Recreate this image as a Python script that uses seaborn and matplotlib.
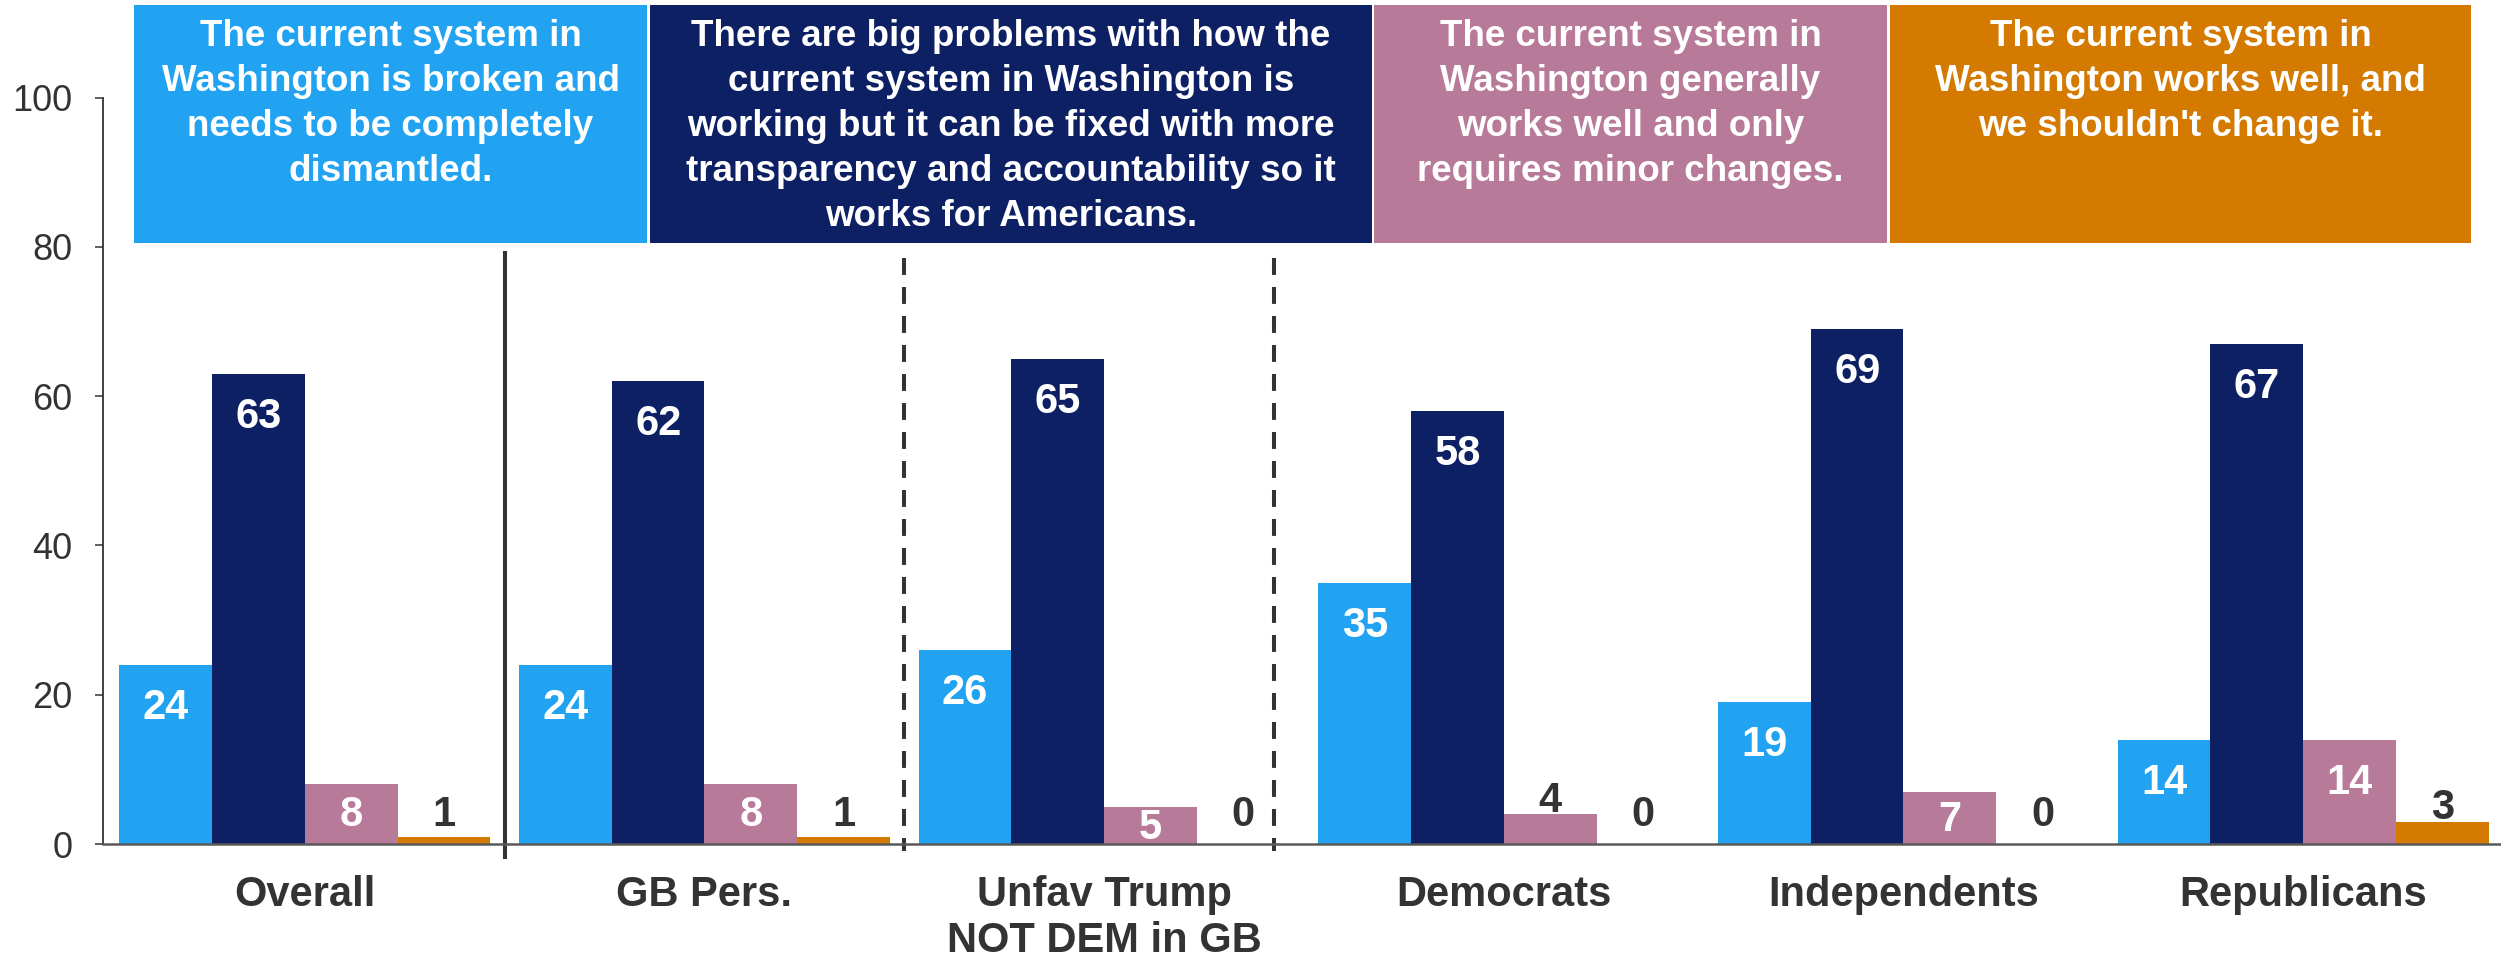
import pandas as pd
import seaborn as sns
import matplotlib.pyplot as plt
from matplotlib.patches import Rectangle

# Data
groups = ["Overall", "GB Pers.", "Unfav Trump\nNOT DEM in GB",
          "Democrats", "Independents", "Republicans"]
answers = [
    "The current system in\nWashington is broken and\nneeds to be completely\ndismantled.",
    "There are big problems with how the\ncurrent system in Washington is\nworking but it can be fixed with more\ntransparency and accountability so it\nworks for Americans.",
    "The current system in\nWashington generally\nworks well and only\nrequires minor changes.",
    "The current system in\nWashington works well, and\nwe shouldn't change it.",
]
broken = [24, 24, 26, 35, 19, 14]
fixable = [63, 62, 65, 58, 69, 67]
minor = [8, 8, 5, 4, 7, 14]
works = [1, 1, 0, 0, 0, 3]
colors = ["#21A3F1", "#0E2064", "#B87A99", "#D47A00"]
yticks = [0, 20, 40, 60, 80, 100]

# layout (pixels of the 2501x960 canvas)
W, H = 2501, 960
box_px = [(134, 647), (650, 1372), (1374, 1887), (1890, 2471)]
box_top, box_bot = 5, 243
solid_x = [0.5]
dashed_x = [1.5, 2.425]

df = pd.DataFrame({
    "group": groups * 4,
    "answer": sum([[a] * len(groups) for a in answers], []),
    "value": broken + fixable + minor + works,
})

sns.set_style("white")
plt.rcParams["font.family"] = ["Liberation Sans", "DejaVu Sans"]
dark = "#333333"

fig = plt.figure(figsize=(W / 100, H / 100), dpi=100)
ax = fig.add_axes([103 / W, 1 - 844 / H, 1 - 103 / W, (844 - 97.7) / H])

sns.barplot(data=df, x="group", y="value", hue="answer", order=groups,
            hue_order=answers, palette=colors, saturation=1, width=0.928,
            linewidth=0, legend=False, ax=ax)

ax.set_ylim(0, 100)
ax.set_xlim(-0.505, 5.495)
ax.set_xlabel("")
ax.set_ylabel("")
ax.set_yticks(yticks)
ax.tick_params(axis="y", labelsize=26, colors=dark, length=6, width=1.1,
               direction="out", pad=16, left=True)
ax.tick_params(axis="x", length=0, pad=22)
ax.set_xticks(range(len(groups)))
ax.set_xticklabels(groups, fontsize=30, fontweight="bold", color=dark,
                   linespacing=1.2)
for lab in ax.get_yticklabels():
    lab.set_color(dark)
sns.despine(ax=ax, top=True, right=True)
ax.spines["left"].set_color(dark)
ax.spines["left"].set_linewidth(1.3)
ax.spines["bottom"].set_color("#595959")
ax.spines["bottom"].set_linewidth(1.8)

# value labels
for cont in ax.containers:
    for bar in cont:
        v = bar.get_height()
        xc = bar.get_x() + bar.get_width() / 2
        if v >= 5:
            yc = max(v - 5.2, 0.55 * v)
            col = "white"
        else:
            yc = max(v + 2.4, 4.4)
            col = dark
        ax.text(xc, yc - 2.05, f"{v:.0f}", ha="center", va="baseline",
                fontsize=30, fontweight="bold", color=col)

# separators
for x in solid_x:
    ax.plot([x, x], [79.4, -2.0], color=dark, lw=2.9, clip_on=False,
            solid_capstyle="butt")
for x in dashed_x:
    ax.plot([x, x], [78.5, -1.0], color=dark, lw=2.9, clip_on=False,
            dashes=(4.2, 3.0), dash_capstyle="butt")

# header boxes acting as legend
for (x0, x1), txt, c in zip(box_px, answers, colors):
    fig.patches.append(Rectangle((x0 / W, 1 - box_bot / H), (x1 - x0) / W,
                                 (box_bot - box_top) / H, facecolor=c,
                                 edgecolor="none", transform=fig.transFigure))
    fig.text((x0 + x1) / 2 / W, 1 - 19 / H, txt, ha="center", va="top",
             fontsize=26.5, fontweight="bold", color="white", linespacing=1.37)

fig.savefig("out.png", dpi=100)
